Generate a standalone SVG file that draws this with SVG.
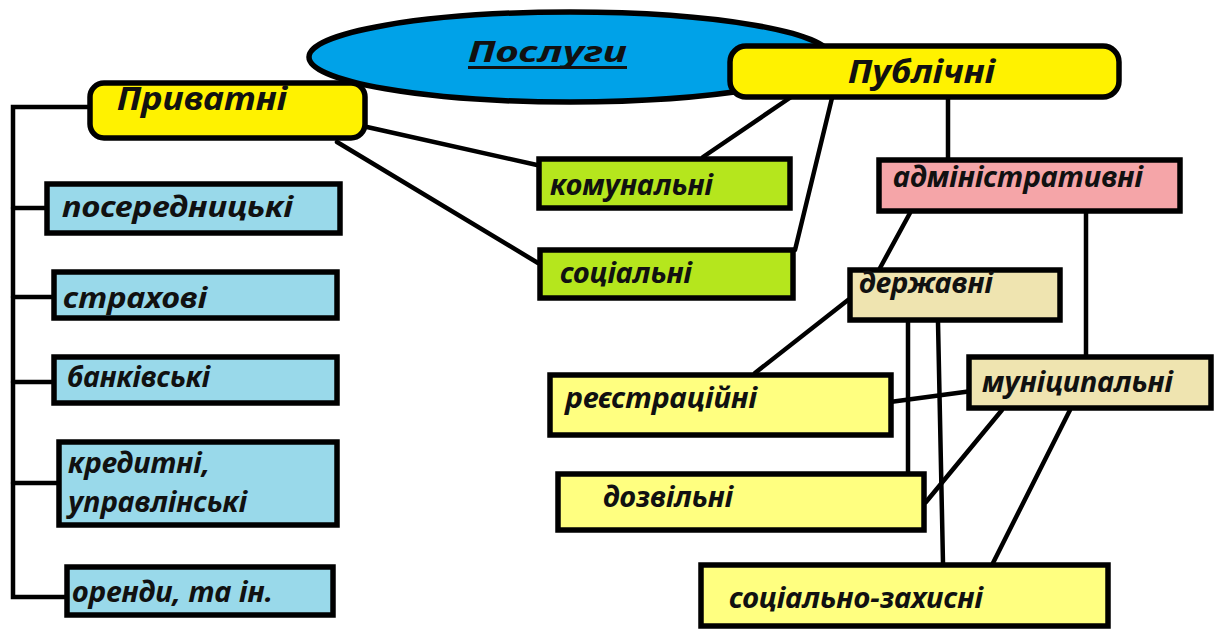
<svg xmlns="http://www.w3.org/2000/svg" width="1220" height="631" viewBox="0 0 1220 631">
<style>
.box{stroke:#000;stroke-width:5.5}
.conn line,.conn path{stroke:#000;stroke-width:4.5;fill:none;stroke-linecap:round;stroke-linejoin:miter}
.lbl{font-family:"Noto Sans","Open Sans","DejaVu Sans",sans-serif;font-weight:bold;font-style:italic;font-size:29px;fill:#111}
.big{font-size:33px}
.blue{fill:#99d9ea}
.green{fill:#b5e61d}
.tan{fill:#efe4b0}
.lyel{fill:#ffff80}
.yel{fill:#fff200}
</style>
<rect width="1220" height="631" fill="#fff"/>
<g id="root">
<ellipse class="box" cx="570" cy="57" rx="261" ry="45" fill="#00a2e8"/>
<text class="lbl" x="468" y="62" font-size="43" textLength="159" lengthAdjust="spacingAndGlyphs">Послуги</text>
<line x1="468" y1="67.5" x2="627" y2="67.5" stroke="#111" stroke-width="3"/>
</g>
<g class="conn" id="connectors">
<path d="M90 107 H13 V597 H65"/>
<line x1="13" y1="208" x2="45" y2="208"/>
<line x1="13" y1="297" x2="52" y2="297"/>
<line x1="13" y1="382" x2="52" y2="382"/>
<line x1="13" y1="483" x2="57" y2="483"/>
<line x1="367" y1="127" x2="537" y2="165"/>
<line x1="337" y1="142" x2="538" y2="263"/>
<line x1="797" y1="93" x2="703" y2="157"/>
<line x1="832" y1="98" x2="795" y2="250"/>
<line x1="948" y1="98" x2="948" y2="158"/>
<line x1="910" y1="213" x2="880" y2="268"/>
<line x1="1086" y1="213" x2="1086" y2="355"/>
<line x1="848" y1="300" x2="755" y2="373"/>
<line x1="908" y1="322" x2="908" y2="472"/>
<line x1="938" y1="322" x2="943" y2="563"/>
<line x1="972" y1="391" x2="890" y2="402"/>
<line x1="1002" y1="410" x2="926" y2="502"/>
<line x1="1070" y1="410" x2="993" y2="563"/>
</g>
<g id="pryvatni">
<rect class="box yel" x="90" y="83" width="275" height="55" rx="14"/>
<text class="lbl big" x="117" y="110" textLength="170" lengthAdjust="spacingAndGlyphs">Приватні</text>
</g>
<g id="publichni">
<rect class="box yel" x="730" y="46" width="389" height="51" rx="16"/>
<text class="lbl big" x="848" y="83" textLength="147" lengthAdjust="spacingAndGlyphs">Публічні</text>
</g>
<g id="poserednytski">
<rect class="box blue" x="47" y="184" width="293" height="49"/>
<text class="lbl" x="62" y="217" textLength="231" lengthAdjust="spacingAndGlyphs">посередницькі</text>
</g>
<g id="strakhovi">
<rect class="box blue" x="54" y="272" width="283" height="46"/>
<text class="lbl" x="63" y="308" textLength="144" lengthAdjust="spacingAndGlyphs">страхові</text>
</g>
<g id="bankivski">
<rect class="box blue" x="54" y="357" width="283" height="46"/>
<text class="lbl" x="67" y="387" textLength="143" lengthAdjust="spacingAndGlyphs">банківські</text>
</g>
<g id="kredytni">
<rect class="box blue" x="59" y="442" width="278" height="83"/>
<text class="lbl" x="68" y="473" textLength="142" lengthAdjust="spacingAndGlyphs">кредитні,</text>
<text class="lbl" x="68" y="512" textLength="179" lengthAdjust="spacingAndGlyphs">управлінські</text>
</g>
<g id="orendy">
<rect class="box blue" x="67" y="567" width="266" height="48"/>
<text class="lbl" x="72" y="602" textLength="201" lengthAdjust="spacingAndGlyphs">оренди, та ін.</text>
</g>
<g id="komunalni">
<rect class="box green" x="539" y="159" width="251" height="49"/>
<text class="lbl" x="550" y="195" textLength="163" lengthAdjust="spacingAndGlyphs">комунальні</text>
</g>
<g id="sotsialni">
<rect class="box green" x="540" y="250" width="253" height="48"/>
<text class="lbl" x="560" y="283" textLength="132" lengthAdjust="spacingAndGlyphs">соціальні</text>
</g>
<g id="administratyvni">
<rect class="box" fill="#f5a5a8" x="879" y="160" width="301" height="51"/>
<text class="lbl" x="893" y="187" textLength="250" lengthAdjust="spacingAndGlyphs">адміністративні</text>
</g>
<g id="derzhavni">
<rect class="box tan" x="850" y="270" width="210" height="50"/>
<text class="lbl" x="859" y="293" textLength="134" lengthAdjust="spacingAndGlyphs">державні</text>
</g>
<g id="munitsypalni">
<rect class="box tan" x="969" y="357" width="242" height="51"/>
<text class="lbl" x="982" y="392" textLength="191" lengthAdjust="spacingAndGlyphs">муніципальні</text>
</g>
<g id="reiestratsiini">
<rect class="box lyel" x="550" y="375" width="341" height="60"/>
<text class="lbl" x="565" y="408" textLength="192" lengthAdjust="spacingAndGlyphs">реєстраційні</text>
</g>
<g id="dozvilni">
<rect class="box lyel" x="558" y="474" width="366" height="56"/>
<text class="lbl" x="603" y="507" textLength="130" lengthAdjust="spacingAndGlyphs">дозвільні</text>
</g>
<g id="sotsialno-zakhysni">
<rect class="box lyel" x="701" y="565" width="407" height="61"/>
<text class="lbl" x="729" y="608" textLength="254" lengthAdjust="spacingAndGlyphs">соціально-захисні</text>
</g>
</svg>
